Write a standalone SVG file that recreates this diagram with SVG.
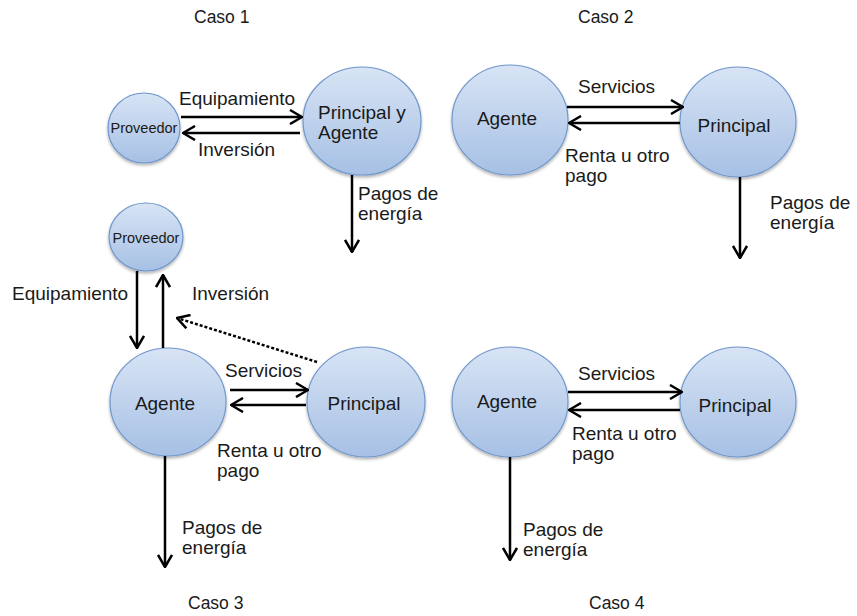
<svg xmlns="http://www.w3.org/2000/svg" width="857" height="616" viewBox="0 0 857 616">
<defs>
<linearGradient id="g" x1="0" y1="0" x2="0" y2="1">
<stop offset="0" stop-color="#d8e4f5"/>
<stop offset="1" stop-color="#a6c0e4"/>
</linearGradient>
<filter id="sh" x="-20%" y="-20%" width="140%" height="150%">
<feDropShadow dx="0" dy="2" stdDeviation="1.5" flood-color="#000" flood-opacity="0.3"/>
</filter>
<marker id="ah" viewBox="0 0 14 16" refX="13" refY="8" markerWidth="14" markerHeight="16" markerUnits="userSpaceOnUse" orient="auto">
<path d="M1,1 L13,8 L1,15" fill="none" stroke="#000" stroke-width="2.5"/>
</marker>
</defs>
<style>
.n{fill:url(#g);stroke:#6f97cc;stroke-width:1.2;filter:url(#sh)}
.t{font-family:"Liberation Sans",Arial,sans-serif;font-size:19px;fill:#1a1a1a}
.s{font-family:"Liberation Sans",Arial,sans-serif;font-size:14.5px;fill:#1a1a1a}
.c{font-family:"Liberation Sans",Arial,sans-serif;font-size:17.5px;fill:#1a1a1a}
.a{stroke:#000;stroke-width:2.5;fill:none;marker-end:url(#ah)}
.d{stroke:#000;stroke-width:2.5;fill:none;stroke-dasharray:3 2;marker-end:url(#ah)}
</style>
<rect width="857" height="616" fill="#fff"/>
<g id="titles">
<text class="c" x="194" y="23">Caso 1</text>
<text class="c" x="578" y="23">Caso 2</text>
<text class="c" x="188" y="609">Caso 3</text>
<text class="c" x="589" y="609">Caso 4</text>
</g>
<g id="c1-proveedor"><ellipse class="n" cx="144" cy="128" rx="36" ry="35"/><text class="s" x="144" y="133" text-anchor="middle">Proveedor</text></g>
<g id="c1-principal-agente"><ellipse class="n" cx="362" cy="121" rx="59" ry="54"/><text class="t" x="318" y="119">Principal y</text><text class="t" x="318" y="139">Agente</text></g>
<g id="c2-agente"><ellipse class="n" cx="510" cy="120" rx="58" ry="55"/><text class="t" x="507" y="125" text-anchor="middle">Agente</text></g>
<g id="c2-principal"><ellipse class="n" cx="738" cy="122" rx="58" ry="55"/><text class="t" x="734" y="132" text-anchor="middle">Principal</text></g>
<g id="c3-proveedor"><ellipse class="n" cx="146" cy="237" rx="37" ry="34"/><text class="s" x="146" y="243" text-anchor="middle">Proveedor</text></g>
<g id="c3-agente"><ellipse class="n" cx="168" cy="402" rx="58" ry="54"/><text class="t" x="165" y="410" text-anchor="middle">Agente</text></g>
<g id="c3-principal"><ellipse class="n" cx="366" cy="402" rx="59" ry="55"/><text class="t" x="364" y="410" text-anchor="middle">Principal</text></g>
<g id="c4-agente"><ellipse class="n" cx="510" cy="402" rx="58" ry="55"/><text class="t" x="507" y="408" text-anchor="middle">Agente</text></g>
<g id="c4-principal"><ellipse class="n" cx="738" cy="402" rx="58" ry="55"/><text class="t" x="735" y="412" text-anchor="middle">Principal</text></g>
<g id="connectors">
<line class="a" x1="181" y1="117" x2="302" y2="117"/>
<line class="a" x1="300" y1="133" x2="183" y2="133"/>
<line class="a" x1="352" y1="175" x2="352" y2="252"/>
<line class="a" x1="567" y1="107" x2="683" y2="107"/>
<line class="a" x1="680" y1="123" x2="569" y2="123"/>
<line class="a" x1="740" y1="177" x2="740" y2="258"/>
<line class="a" x1="137" y1="271" x2="137" y2="348"/>
<line class="a" x1="163" y1="348" x2="163" y2="275"/>
<line class="d" x1="317" y1="362" x2="177" y2="318"/>
<line class="a" x1="230" y1="390" x2="308" y2="390"/>
<line class="a" x1="306" y1="405" x2="231" y2="405"/>
<line class="a" x1="165" y1="456" x2="165" y2="567"/>
<line class="a" x1="568" y1="392" x2="682" y2="392"/>
<line class="a" x1="680" y1="410" x2="569" y2="410"/>
<line class="a" x1="510" y1="457" x2="510" y2="560"/>
</g>
<g id="labels">
<text class="t" x="179" y="105">Equipamiento</text>
<text class="t" x="198" y="156">Inversión</text>
<text class="t" x="358" y="200">Pagos de</text>
<text class="t" x="358" y="220">energía</text>
<text class="t" x="578" y="93">Servicios</text>
<text class="t" x="565" y="162">Renta u otro</text>
<text class="t" x="565" y="182">pago</text>
<text class="t" x="770" y="209">Pagos de</text>
<text class="t" x="770" y="229">energía</text>
<text class="t" x="12" y="300">Equipamiento</text>
<text class="t" x="192" y="300">Inversión</text>
<text class="t" x="225" y="377">Servicios</text>
<text class="t" x="217" y="457">Renta u otro</text>
<text class="t" x="217" y="477">pago</text>
<text class="t" x="182" y="534">Pagos de</text>
<text class="t" x="182" y="554">energía</text>
<text class="t" x="578" y="380">Servicios</text>
<text class="t" x="572" y="440">Renta u otro</text>
<text class="t" x="572" y="460">pago</text>
<text class="t" x="523" y="536">Pagos de</text>
<text class="t" x="523" y="556">energía</text>
</g>
</svg>
